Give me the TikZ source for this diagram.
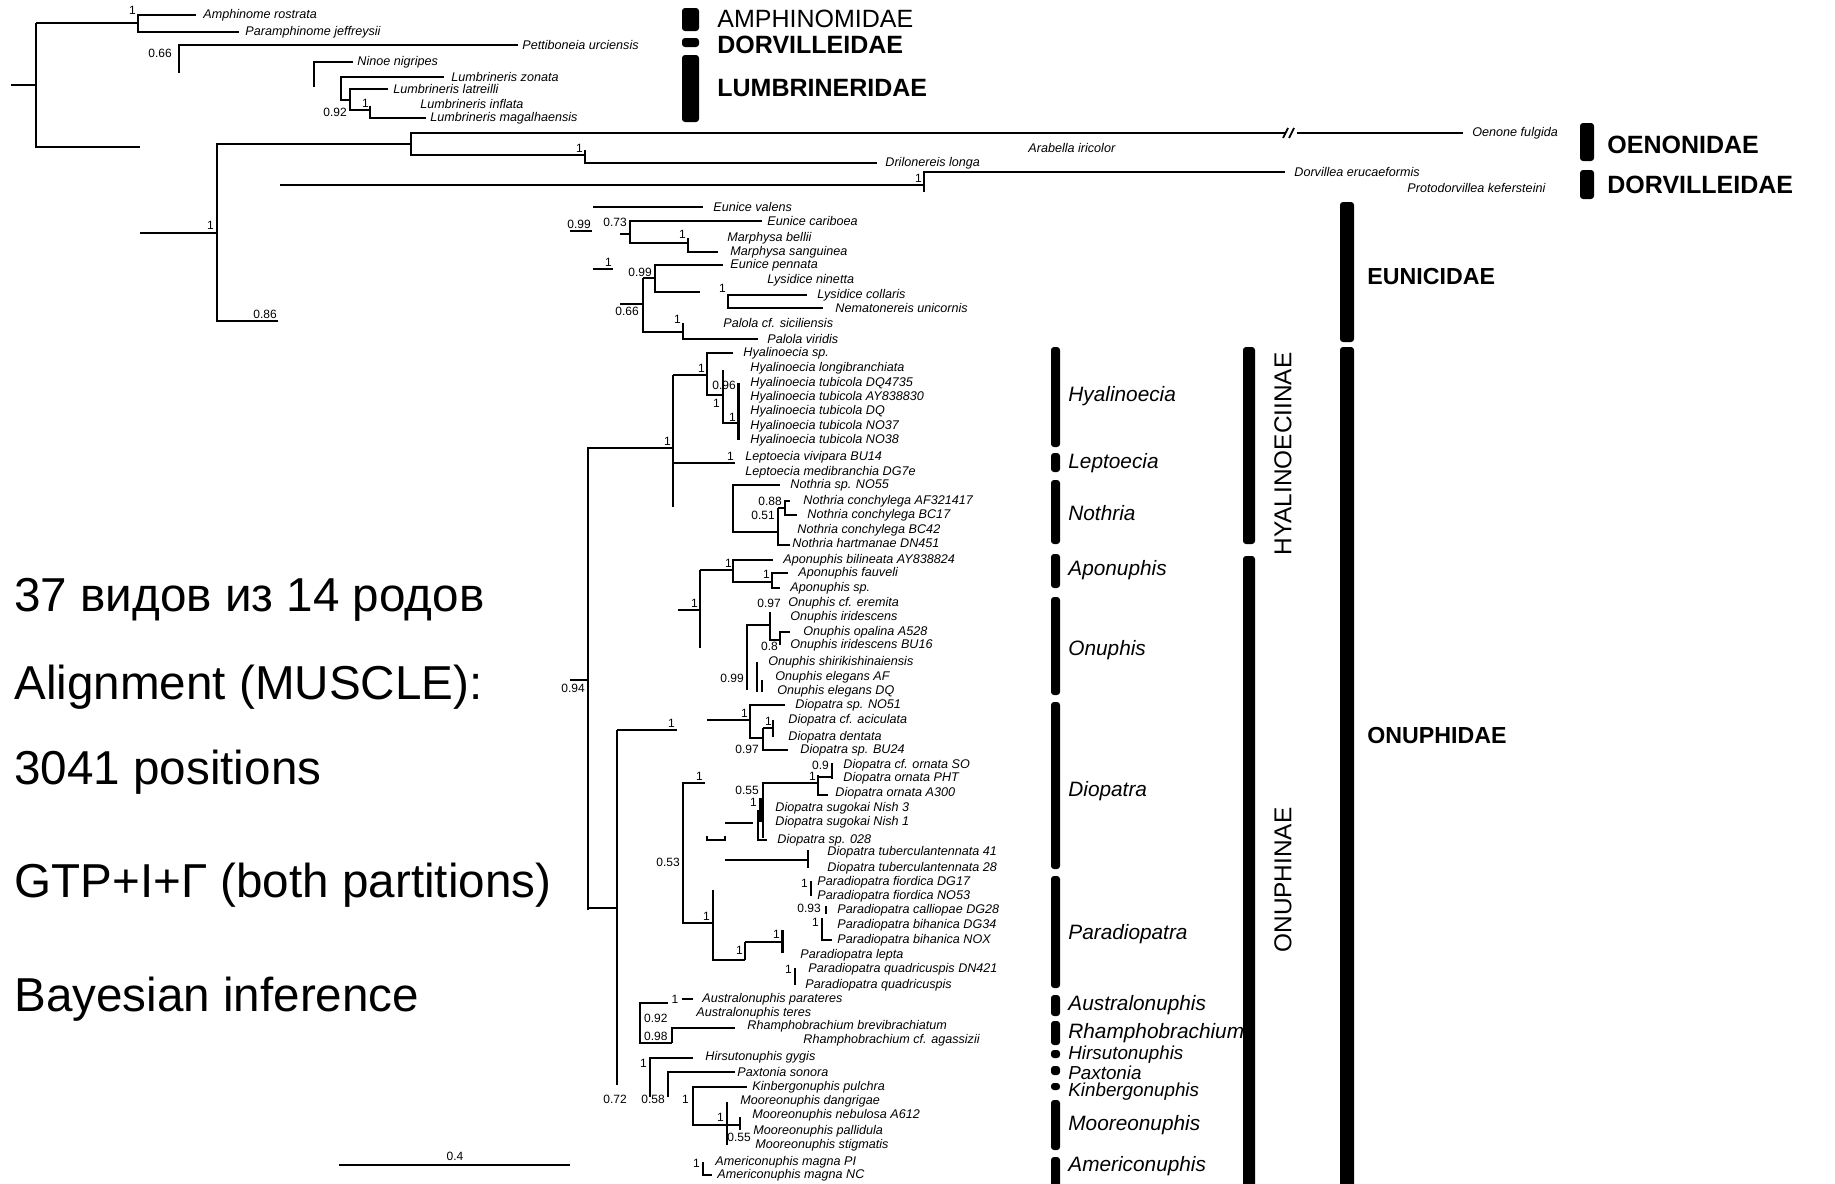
\documentclass[tikz,border=0pt]{standalone}
\usepackage{fontspec}
\setmainfont{Liberation Sans}
\begin{document}
\begin{tikzpicture}[x=0.5pt,y=-0.5pt,
  br/.style={line width=0.9pt},
  brk/.style={line width=1.5pt},
  sp/.style={anchor=west,inner sep=0pt,font=\fontsize{6.3}{7}\selectfont\itshape},
  pp/.style={inner sep=0.4pt,font=\fontsize{6}{7}\selectfont},
  fam/.style={anchor=west,inner sep=0pt,font=\fontsize{12.5}{14}\selectfont\bfseries},
  famsm/.style={anchor=west,inner sep=0pt,font=\fontsize{11.6}{13}\selectfont\bfseries},
  gen/.style={anchor=west,inner sep=0pt,font=\fontsize{10.4}{12}\selectfont\itshape},
  gensm/.style={gen,font=\fontsize{9.4}{10}\selectfont\itshape},
  subfam/.style={rotate=90,inner sep=0pt,font=\fontsize{12.2}{14}\selectfont},
  big/.style={anchor=base west,inner sep=0pt,font=\fontsize{23.8}{28}\selectfont},
  bar/.style={fill=black,rounded corners=1.5pt}]
\fill[white] (0,0) rectangle (1835,1183);
\useasboundingbox (0,0) rectangle (1835,1183);

% summary text
\node[big] (t1) at (14,611) {37 видов из 14 родов};
\node[big] (t2) at (14,699) {Alignment (MUSCLE):};
\node[big] (t3) at (14,784) {3041 positions};
\node[big] (t4) at (14,897) {GTP+I+Γ (both partitions)};
\node[big] (t5) at (14,1011) {Bayesian inference};

% outgroups
\draw[br] (11,85) -- (36,85);
\draw[br] (36,23) -- (36,147) -- (140,147);
\draw[br] (36,23) -- (138,23);
\draw[br] (196,15) -- (138,15) -- (138,32) -- (239,32);
\draw[br] (518,45) -- (179,45) -- (179,73);
\draw[br] (353,62) -- (314,62) -- (314,87);
\draw[br] (444,77) -- (341,77) -- (341,100) -- (350,100);
\draw[br] (388,89) -- (350,89) -- (350,110) -- (370,110);
\draw[br] (370,106) -- (370,118) -- (426,118);
\foreach \x/\y/\t [count=\i] in {203/15/Amphinome rostrata, 245/32/Paramphinome jeffreysii,
    522/45/Pettiboneia urciensis, 357/62/Ninoe nigripes, 451/77/Lumbrineris zonata,
    393/89/Lumbrineris latreilli, 420/104/Lumbrineris inflata, 430/118/Lumbrineris magalhaensis}
  \node[sp] (out\i) at (\x,\y) {\t};
\node[pp,anchor=south east] (pp1) at (137,16) {1};
\node[pp,anchor=east] (pp2) at (173,53) {0.66};
\node[pp,anchor=east] (pp3) at (348,112) {0.92};
\node[pp,anchor=south east] (pp4) at (370,109) {1};

% oenonidae, dorvilleidae
\draw[br] (140,233) -- (217,233);
\draw[br] (411,144) -- (217,144) -- (217,321) -- (278,321);
\draw[br] (1285,133) -- (411,133) -- (411,155) -- (585,155);
\draw[br] (1297,133) -- (1463,133);
\draw[br] (1283,138) -- (1288,128) (1289,138) -- (1294,128);
\draw[br] (585,150) -- (585,163) -- (877,163);
\draw[br] (280,185) -- (924,185);
\draw[br] (1285,172) -- (924,172) -- (924,192);
\foreach \x/\y/\t [count=\i] in {1472/133/Oenone fulgida, 1028/148/Arabella iricolor,
    885/163/Drilonereis longa, 1294/172/Dorvillea erucaeformis, 1407/188/Protodorvillea kefersteini}
  \node[sp] (oen\i) at (\x,\y) {\t};
\node[pp,anchor=south east] (pp5) at (215,231) {1};
\node[pp,anchor=south east] (pp6) at (278,320) {0.86};
\node[pp,anchor=south east] (pp7) at (584,154) {1};
\node[pp,anchor=south east] (pp8) at (923,184) {1};

% eunicidae
\draw[br] (593,207) -- (703,207);
\draw[br] (570,231) -- (592,231);
\draw[br] (620,234) -- (630,234);
\draw[br] (762,221) -- (630,221) -- (630,243) -- (688,243);
\draw[br] (688,238) -- (688,252) -- (718,252);
\draw[br] (593,269) -- (613,269);
\draw[br] (723,265) -- (655,265) -- (655,292) -- (700,292);
\draw[br] (643,278) -- (655,278);
\draw[br] (643,278) -- (643,332) -- (683,332);
\draw[br] (620,304) -- (643,304);
\draw[br] (807,295) -- (728,295) -- (728,308) -- (823,308);
\draw[br] (683,323) -- (683,339) -- (758,339);
\foreach \x/\y/\t [count=\i] in {713/207/Eunice valens, 767/221/Eunice cariboea,
    727/238/Marphysa bellii, 730/252/Marphysa sanguinea, 730/265/Eunice pennata,
    767/280/Lysidice ninetta, 817/295/Lysidice collaris, 835/308/Nematonereis unicornis,
    723/323/Palola cf. siciliensis, 767/339/Palola viridis}
  \node[sp] (eun\i) at (\x,\y) {\t};
\node[pp,anchor=south east] (pp9) at (592,230) {0.99};
\node[pp,anchor=east] (pp10) at (628,222) {0.73};
\node[pp,anchor=south east] (pp11) at (687,240) {1};
\node[pp,anchor=south east] (pp12) at (613,268) {1};
\node[pp,anchor=east] (pp13) at (653,272) {0.99};
\node[pp,anchor=south east] (pp14) at (727,294) {1};
\node[pp,anchor=north east] (pp15) at (640,306) {0.66};
\node[pp,anchor=south east] (pp16) at (682,325) {1};

% onuphidae: hyalinoeciinae
\draw[br] (570,680) -- (588,680);
\draw[br] (673,448) -- (588,448) -- (588,910);
\draw[br] (673,375) -- (673,507);
\draw[br] (673,375) -- (707,375);
\draw[br] (733,353) -- (707,353) -- (707,395) -- (723,395);
\draw[br] (723,370) -- (723,423) -- (738,423);
\draw[brk] (738,383) -- (738,440);
\draw[br] (673,463) -- (735,463);
\draw[br] (780,485) -- (733,485) -- (733,532) -- (778,532);
\draw[br] (778,508) -- (778,545) -- (790,545);
\draw[br] (778,508) -- (785,508);
\draw[br] (790,501) -- (785,501) -- (785,515) -- (797,515);
\foreach \x/\y/\t [count=\i] in {743/353/Hyalinoecia sp., 750/368/Hyalinoecia longibranchiata,
    750/383/Hyalinoecia tubicola DQ4735, 750/397/Hyalinoecia tubicola AY838830,
    750/411/Hyalinoecia tubicola DQ, 750/426/Hyalinoecia tubicola NO37,
    750/440/Hyalinoecia tubicola NO38, 745/457/Leptoecia vivipara BU14,
    745/472/Leptoecia medibranchia DG7e, 790/485/Nothria sp. NO55,
    803/501/Nothria conchylega AF321417, 807/515/Nothria conchylega BC17,
    797/530/Nothria conchylega BC42, 792/543/Nothria hartmanae DN451}
  \node[sp] (hya\i) at (\x,\y) {\t};
\node[pp,anchor=north east] (pp25) at (586,683) {0.94};
\node[pp,anchor=south east] (pp17) at (672,447) {1};
\node[pp,anchor=south east] (pp18) at (706,374) {1};
\node[pp,anchor=east] (pp19) at (721,403) {1};
\node[pp,anchor=east] (pp20) at (737,385) {0.96};
\node[pp,anchor=east] (pp21) at (737,417) {1};
\node[pp,anchor=south east] (pp22) at (735,462) {1};
\node[pp,anchor=east] (pp23) at (783,501) {0.88};
\node[pp,anchor=east] (pp24) at (776,515) {0.51};

% onuphinae: aponuphis, onuphis
\draw[br] (678,610) -- (700,610);
\draw[br] (700,570) -- (700,648);
\draw[br] (700,570) -- (733,570);
\draw[br] (773,560) -- (733,560) -- (733,582) -- (772,582);
\draw[br] (788,573) -- (772,573) -- (772,588) -- (780,588);
\draw[br] (770,625) -- (747,625) -- (747,690);
\draw[br] (770,612) -- (770,640) -- (780,640);
\draw[br] (790,632) -- (780,632) -- (780,645);
\draw[br] (757,662) -- (757,692);
\draw[br] (762,680) -- (762,692);
\foreach \x/\y/\t [count=\i] in {783/560/Aponuphis bilineata AY838824, 798/573/Aponuphis fauveli,
    790/588/Aponuphis sp., 788/603/Onuphis cf. eremita, 790/617/Onuphis iridescens,
    803/632/Onuphis opalina A528, 790/645/Onuphis iridescens BU16,
    768/662/Onuphis shirikishinaiensis, 775/677/Onuphis elegans AF, 777/691/Onuphis elegans DQ}
  \node[sp] (onu\i) at (\x,\y) {\t};
\node[pp,anchor=south east] (pp26) at (699,609) {1};
\node[pp,anchor=south east] (pp27) at (733,569) {1};
\node[pp,anchor=east] (pp28) at (771,574) {1};
\node[pp,anchor=east] (pp29) at (782,603) {0.97};
\node[pp,anchor=east] (pp30) at (779,646) {0.8};
\node[pp,anchor=east] (pp31) at (745,678) {0.99};

% diopatra
\draw[br] (617,730) -- (677,730);
\draw[br] (617,730) -- (617,1085);
\draw[br] (588,908) -- (617,908);
\draw[br] (707,720) -- (750,720);
\draw[br] (785,705) -- (750,705) -- (750,738) -- (763,738);
\draw[br] (763,728) -- (763,750) -- (788,750);
\draw[br] (763,728) -- (773,728);
\draw[br] (773,720) -- (773,737);
\draw[br] (705,783) -- (683,783) -- (683,923) -- (713,923);
\draw[br] (818,783) -- (763,783) -- (763,838);
\draw[br] (818,775) -- (818,795) -- (828,795);
\draw[br] (818,777) -- (832,777);
\draw[br] (832,763) -- (832,779);
\draw[brk] (760,798) -- (760,822);
\draw[br] (758,810) -- (758,840) -- (767,840);
\draw[br] (725,823) -- (753,823);
\draw[br] (707,836) -- (707,840) -- (725,840) -- (725,836);
\draw[br] (725,860) -- (808,860);
\draw[br] (808,850) -- (808,868);
\foreach \x/\y/\t [count=\i] in {795/705/Diopatra sp. NO51, 788/720/Diopatra cf. aciculata,
    788/737/Diopatra dentata, 800/750/Diopatra sp. BU24, 843/765/Diopatra cf. ornata SO,
    843/778/Diopatra ornata PHT, 835/793/Diopatra ornata A300, 775/808/Diopatra sugokai Nish 3,
    775/822/Diopatra sugokai Nish 1, 777/840/Diopatra sp. 028,
    827/852/Diopatra tuberculantennata 41, 827/868/Diopatra tuberculantennata 28}
  \node[sp] (dio\i) at (\x,\y) {\t};
\node[pp,anchor=south east] (pp32) at (676,729) {1};
\node[pp,anchor=east] (pp33) at (749,713) {1};
\node[pp,anchor=south east] (pp34) at (773,727) {1};
\node[pp,anchor=east] (pp35) at (760,749) {0.97};
\node[pp,anchor=south east] (pp36) at (704,782) {1};
\node[pp,anchor=east] (pp37) at (681,862) {0.53};
\node[pp,anchor=east] (pp38) at (760,790) {0.55};
\node[pp,anchor=south east] (pp39) at (817,782) {1};
\node[pp,anchor=east] (pp40) at (830,765) {0.9};
\node[pp,anchor=east] (pp41) at (758,802) {1};

% paradiopatra
\draw[br] (713,890) -- (713,960) -- (745,960);
\draw[br] (745,942) -- (745,960);
\draw[br] (745,942) -- (782,942);
\draw[brk] (782,930) -- (782,953);
\draw[br] (811,881) -- (811,896);
\draw[br] (826,906) -- (826,914);
\draw[br] (822,918) -- (822,940) -- (832,940);
\draw[br] (795,968) -- (795,985);
\foreach \x/\y/\t [count=\i] in {817/882/Paradiopatra fiordica DG17, 817/896/Paradiopatra fiordica NO53,
    837/910/Paradiopatra calliopae DG28, 837/925/Paradiopatra bihanica DG34,
    837/940/Paradiopatra bihanica NOX, 800/955/Paradiopatra lepta,
    808/969/Paradiopatra quadricuspis DN421, 805/985/Paradiopatra quadricuspis}
  \node[sp] (par\i) at (\x,\y) {\t};
\node[pp,anchor=east] (pp42) at (711,916) {1};
\node[pp,anchor=east] (pp43) at (744,950) {1};
\node[pp,anchor=south east] (pp44) at (781,940) {1};
\node[pp,anchor=east] (pp45) at (809,883) {1};
\node[pp,anchor=east] (pp46) at (822,908) {0.93};
\node[pp,anchor=east] (pp47) at (820,922) {1};
\node[pp,anchor=east] (pp48) at (793,969) {1};

% remaining onuphinae
\draw[br] (682,999) -- (693,999);
\draw[br] (668,1003) -- (640,1003) -- (640,1043) -- (672,1043);
\draw[br] (735,1028) -- (672,1028) -- (672,1043);
\draw[br] (693,1058) -- (650,1058) -- (650,1097);
\draw[br] (735,1072) -- (668,1072) -- (668,1097);
\draw[br] (747,1087) -- (693,1087) -- (693,1125) -- (740,1125);
\draw[br] (727,1102) -- (727,1145);
\draw[br] (740,1117) -- (740,1130);
\draw[br] (703,1162) -- (703,1175) -- (712,1175);
\foreach \x/\y/\t [count=\i] in {702/999/Australonuphis parateres, 696/1013/Australonuphis teres,
    747/1026/Rhamphobrachium brevibrachiatum, 803/1040/Rhamphobrachium cf. agassizii,
    705/1057/Hirsutonuphis gygis, 737/1072/Paxtonia sonora, 752/1087/Kinbergonuphis pulchra,
    740/1101/Mooreonuphis dangrigae, 752/1115/Mooreonuphis nebulosa A612,
    753/1131/Mooreonuphis pallidula, 755/1145/Mooreonuphis stigmatis,
    715/1162/Americonuphis magna PI, 717/1175/Americonuphis magna NC}
  \node[sp] (low\i) at (\x,\y) {\t};
\node[pp] (pp49) at (675,999) {1};
\node[pp,anchor=west] (pp50) at (643,1018) {0.92};
\node[pp,anchor=south west] (pp51) at (643,1042) {0.98};
\node[pp,anchor=east] (pp52) at (648,1063) {1};
\node[pp,anchor=east] (pp53) at (628,1099) {0.72};
\node[pp,anchor=east] (pp54) at (666,1099) {0.58};
\node[pp,anchor=east] (pp55) at (690,1099) {1};
\node[pp,anchor=east] (pp56) at (725,1117) {1};
\node[pp,anchor=east] (pp57) at (752,1137) {0.55};
\node[pp,anchor=east] (pp58) at (701,1163) {1};

% scale bar
\draw[br] (339,1165) -- (570,1165);
\node[pp,anchor=south] (scale) at (455,1162) {0.4};

% family bars
\fill[bar] (682,8) rectangle (699,31);
\node[fam,font=\fontsize{12.5}{14}\selectfont\mdseries] (f1) at (717,19) {AMPHINOMIDAE};
\fill[bar] (682,38) rectangle (699,47);
\node[fam] (f2) at (717,45) {DORVILLEIDAE};
\fill[bar] (682,55) rectangle (699,122);
\node[fam] (f3) at (717,88) {LUMBRINERIDAE};
\fill[bar] (1580,123) rectangle (1594,161);
\node[fam] (f4) at (1607,145) {OENONIDAE};
\fill[bar] (1580,170) rectangle (1594,199);
\node[fam] (f5) at (1607,185) {DORVILLEIDAE};
\fill[bar] (1340,202) rectangle (1354,342);
\node[famsm] (f6) at (1367,277) {EUNICIDAE};
\fill[bar] (1340,347) rectangle (1354,1190);
\node[famsm] (f7) at (1367,736) {ONUPHIDAE};

% subfamilies
\fill[bar] (1243,347) rectangle (1255,544);
\node[subfam] (s1) at (1283,454) {HYALINOECIINAE};
\fill[bar] (1243,556) rectangle (1255,1190);
\node[subfam] (s2) at (1283,880) {ONUPHINAE};

% genera
\foreach \a/\b/\c/\t in {347/447/396/Hyalinoecia, 453/472/463/Leptoecia, 480/544/513/Nothria,
    554/588/570/Aponuphis, 597/695/650/Onuphis, 702/869/791/Diopatra,
    876/988/934/Paradiopatra, 995/1016/1005/Australonuphis, 1021/1045/1033/Rhamphobrachium,
    1100/1150/1125/Mooreonuphis, 1157/1190/1166/Americonuphis}
  {\fill[bar] (1051,\a) rectangle (1060,\b);
   \node[gen] (g-\t) at (1068,\c) {\t};}
% the three small genera sit close together
\foreach \a/\b/\c/\t in {1050/1058/1055/Hirsutonuphis, 1066/1075/1073/Paxtonia,
    1083/1090/1092/Kinbergonuphis}
  {\fill[bar] (1051,\a) rectangle (1060,\b);
   \node[gensm] (g-\t) at (1068,\c) {\t};}
\end{tikzpicture}
\end{document}
